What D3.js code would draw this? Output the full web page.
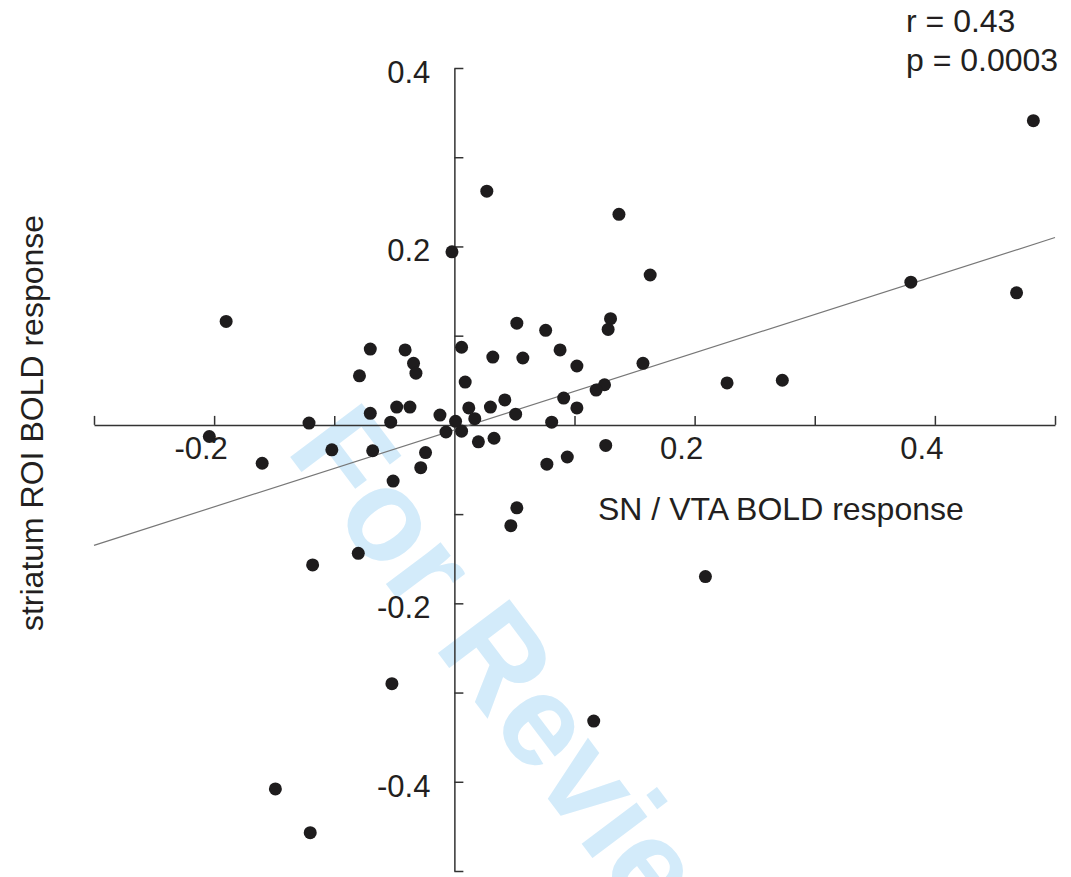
<!DOCTYPE html>
<html lang="en">
  <head>
    <meta charset="utf-8">
    <script src="https://d3js.org/d3.v7.min.js"></script>
    <style>
      body {margin: 0; background: white;}
      text {font-family: "Liberation Sans", Arial, sans-serif; fill: #231f20;}
      .axis path, .axis line {stroke: #333; stroke-width: 1.5;}
    </style>
  </head>
  <body>
    <script type="text/javascript">
      // data
      const snVta = [0.482, 0.027, 0.137, -0.002, 0.163, 0.380, 0.468, -0.190, 0.130, 0.052,
        0.128, 0.076, -0.070, -0.041, 0.006, 0.088, 0.032, 0.057, -0.034, 0.157,
        0.102, -0.032, -0.079, 0.009, 0.227, 0.273, 0.125, 0.118, 0.091, 0.042,
        -0.048, -0.037, 0.030, 0.102, 0.012, -0.070, -0.012, 0.051, 0.017, 0.001,
        -0.053, -0.121, 0.081, -0.007, 0.006, -0.204, 0.020, 0.033, -0.102, -0.068,
        0.126, -0.024, -0.160, 0.077, 0.094, -0.028, -0.051, 0.052, 0.047, -0.080,
        -0.118, 0.209, -0.052, 0.116, -0.149, -0.120];
      const striatum = [0.341, 0.262, 0.236, 0.194, 0.168, 0.160, 0.148, 0.116, 0.119, 0.114,
        0.107, 0.106, 0.085, 0.084, 0.087, 0.084, 0.076, 0.075, 0.069, 0.069,
        0.066, 0.058, 0.055, 0.048, 0.047, 0.050, 0.045, 0.039, 0.030, 0.028,
        0.020, 0.020, 0.020, 0.019, 0.019, 0.013, 0.011, 0.012, 0.007, 0.004,
        0.003, 0.002, 0.003, -0.008, -0.007, -0.013, -0.019, -0.015, -0.028, -0.029,
        -0.023, -0.031, -0.043, -0.044, -0.036, -0.048, -0.063, -0.093, -0.113, -0.144,
        -0.157, -0.170, -0.290, -0.332, -0.408, -0.457];
      const fitX = [-0.3, 0.5];
      const fitY = [-0.135, 0.210];
      const xTicks = [-0.3, -0.2, -0.1, 0, 0.1, 0.2, 0.3, 0.4, 0.5];
      const xLabels = [-0.2, 0.2, 0.4];
      const yTicks = [-0.5, -0.4, -0.3, -0.2, -0.1, 0, 0.1, 0.2, 0.3, 0.4];
      const yLabels = [0.4, 0.2, -0.2, -0.4];
      const stats = ["r = 0.43", "p = 0.0003"];

      const w = 1071;
      const h = 877;

      var svg = d3.select("body")
            .append("svg")
            .attr("width", w)
            .attr("height", h);

      var x = d3.scaleLinear().domain([-0.3, 0.5]).range([94, 1055]);
      var y = d3.scaleLinear().domain([-0.5, 0.4]).range([871, 68]);

      // watermark behind everything
      svg.append("text")
          .attr("transform", "translate(285,450) rotate(53)")
          .style("font-size", "130px")
          .style("font-weight", "bold")
          .style("fill", "#d3ebfa")
          .text("For Review");

      // x axis, ticks pointing up
      svg.append("g")
          .attr("class", "axis")
          .attr("transform", "translate(0," + y(0) + ")")
          .call(d3.axisBottom(x).tickValues(xTicks).tickSize(-9).tickSizeOuter(0).tickFormat(""));

      // y axis, ticks pointing right
      svg.append("g")
          .attr("class", "axis")
          .attr("transform", "translate(" + x(0) + ",0)")
          .call(d3.axisLeft(y).tickValues(yTicks).tickSize(-9).tickSizeOuter(0).tickFormat(""));

      svg.selectAll(".xlab")
          .data(xLabels)
          .enter()
          .append("text")
          .attr("class", "xlab")
          .attr("x", function(d) { return x(d) - 13; })
          .attr("y", y(0) + 34)
          .attr("text-anchor", "middle")
          .style("font-size", "31px")
          .text(function(d) { return d3.format(".1f")(d).replace("−", "-"); });

      svg.selectAll(".ylab")
          .data(yLabels)
          .enter()
          .append("text")
          .attr("class", "ylab")
          .attr("x", x(0) - 24)
          .attr("y", function(d) { return y(d) + 15; })
          .attr("text-anchor", "end")
          .style("font-size", "31px")
          .text(function(d) { return d3.format(".1f")(d).replace("−", "-"); });

      // regression line
      svg.append("line")
          .attr("x1", x(fitX[0]))
          .attr("y1", y(fitY[0]))
          .attr("x2", x(fitX[1]))
          .attr("y2", y(fitY[1]))
          .attr("stroke", "#777")
          .attr("stroke-width", 1.2);

      // points
      svg.selectAll("circle")
          .data(snVta)
          .enter()
          .append("circle")
          .attr("cx", function(d) { return x(d); })
          .attr("cy", function(d, i) { return y(striatum[i]); })
          .attr("r", 6.5)
          .attr("fill", "#1e1c1d");

      // axis titles
      svg.append("text")
          .attr("x", 598)
          .attr("y", 520)
          .style("font-size", "32px")
          .text("SN / VTA BOLD response");

      svg.append("text")
          .attr("transform", "translate(43,423) rotate(-90)")
          .attr("text-anchor", "middle")
          .style("font-size", "32px")
          .text("striatum ROI BOLD response");

      svg.selectAll(".stat")
          .data(stats)
          .enter()
          .append("text")
          .attr("class", "stat")
          .attr("x", 906)
          .attr("y", function(d, i) { return 32 + i * 39; })
          .style("font-size", "32px")
          .text(function(d) { return d; });
    </script>
  </body>
</html>
